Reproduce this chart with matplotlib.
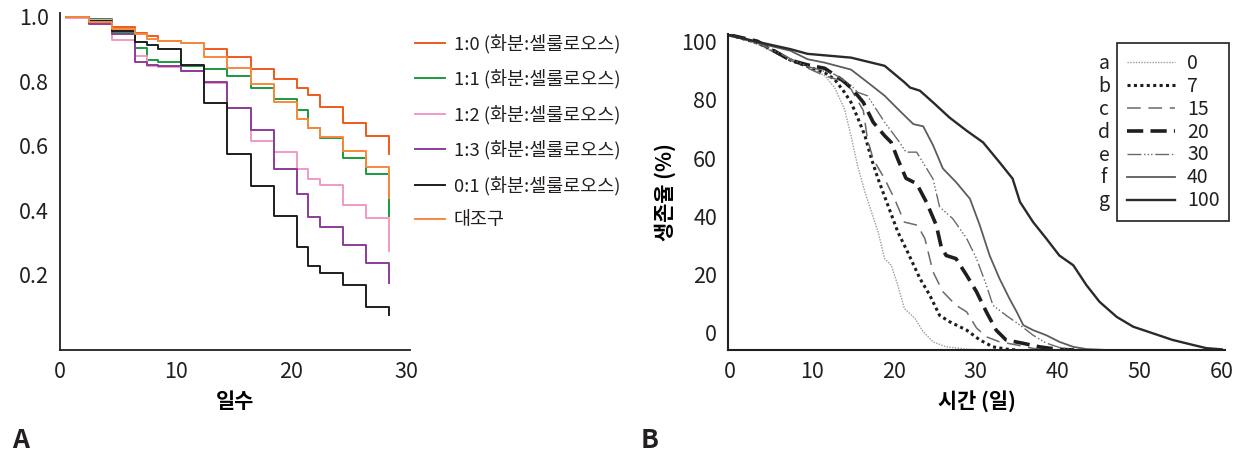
import numpy as np
import matplotlib.pyplot as plt

plt.rcParams['font.family'] = ['Noto Sans CJK KR', 'DejaVu Sans']
plt.rcParams['text.color'] = '#231f20'

# ---- 패널 A : 화분/셀룰로오스 비율별 생존율 (계단형) ----
days_a = [0.5, 2.5, 4.5, 6.5, 7.5, 8.5, 10.5, 12.5, 14.5, 16.5,
          18.5, 20.5, 21.5, 22.5, 24.5, 26.5, 28.5]
s_10 = [1.0, 0.985, 0.97, 0.95, 0.942, 0.924, 0.918, 0.90, 0.875, 0.838,
        0.807, 0.78, 0.759, 0.722, 0.671, 0.631, 0.575]
s_11 = [1.0, 0.994, 0.954, 0.904, 0.867, 0.861, 0.847, 0.839, 0.818, 0.78,
        0.746, 0.712, 0.655, 0.624, 0.562, 0.512, 0.383]
s_12 = [0.995, 0.99, 0.927, 0.878, 0.847, 0.845, 0.833, 0.795, 0.717, 0.614,
        0.58, 0.529, 0.498, 0.479, 0.417, 0.375, 0.274]
s_13 = [1.0, 0.979, 0.948, 0.86, 0.85, 0.848, 0.831, 0.798, 0.717, 0.65,
        0.529, 0.451, 0.379, 0.347, 0.293, 0.238, 0.176]
s_01 = [1.0, 0.986, 0.955, 0.922, 0.912, 0.90, 0.852, 0.733, 0.575, 0.477,
        0.384, 0.287, 0.229, 0.205, 0.169, 0.101, 0.075]
s_ctl = [1.0, 0.985, 0.963, 0.948, 0.93, 0.924, 0.918, 0.875, 0.842, 0.793,
         0.735, 0.683, 0.655, 0.626, 0.583, 0.533, 0.438]

labels_a = ['1:0 (화분:셀룰로오스)', '1:1 (화분:셀룰로오스)', '1:2 (화분:셀룰로오스)',
            '1:3 (화분:셀룰로오스)', '0:1 (화분:셀룰로오스)', '대조구']
series_a = [s_10, s_11, s_12, s_13, s_01, s_ctl]
colors_a = ['#ef5a1b', '#1a9a40', '#f09ac6', '#8c3d99', '#1e1e1e', '#f7883b']

# ---- 패널 B : 시간에 따른 생존율 ----
a_x = [0, 3.4, 5.4, 7.4, 9.5, 11.6, 12.8, 14, 14.8, 15.6, 16.5, 17.3, 18.1, 18.9,
       19.7, 20.5, 21.3, 22.6, 23.6, 24.8, 26.4, 28.9, 31]
a_y = [100, 97, 94.5, 92, 90.2, 87, 83.3, 76.5, 68, 58.5, 50.1, 43.8, 37.5, 29,
       26.9, 20.6, 13.2, 10, 5.8, 2.6, 1, 0.3, 0]
b_x = [0, 3.4, 5.4, 7.4, 9.5, 11.6, 12.8, 14, 14.8, 15.6, 16.5, 17.3, 18.1, 19.3,
       20.5, 21.7, 23.2, 24.4, 25.6, 26.8, 28.9, 30.5, 32.1, 33.7, 35]
b_y = [100, 97.5, 95, 92, 90, 88, 85.9, 81.8, 78.6, 73.8, 68, 60.6, 54.3, 45.9,
       37.5, 31.1, 22.7, 17.4, 11, 9, 6.3, 3.2, 1, 0.3, 0]
c_x = [0, 3.4, 5.4, 7.4, 9.5, 11.6, 13.6, 14.8, 16.3, 16.8, 17.5, 18.9, 20.1, 21.3,
       22.9, 23.8, 24.8, 26, 27.6, 28.9, 30.1, 31.3, 32.9, 35, 37, 39]
c_y = [100, 97.5, 94.5, 92, 89.5, 87, 85.5, 82.8, 76, 67, 60.6, 54.3, 48, 40.6,
       39.6, 35.4, 24.8, 18.5, 14.2, 12.1, 7, 4.2, 2.6, 1.6, 0.5, 0]
d_x = [0, 3.4, 5.4, 7.4, 9.5, 11.6, 13.6, 14.8, 16.3, 17.5, 18.9, 19.7, 20.5, 21.5,
       22.8, 24, 25.2, 25.8, 26.4, 27.6, 28.9, 30.1, 31.3, 32.5, 33.7, 35.8, 37.8,
       39.8, 42]
d_y = [100, 98, 95, 92, 90.5, 89.4, 85.9, 83.3, 78.6, 72.3, 68, 65.9, 60.6, 54.5,
       52.8, 46.9, 39.6, 32.7, 30, 29, 23.7, 18.5, 12.1, 6.3, 3.2, 2.1, 1, 0.3, 0]
e_x = [0, 3.4, 5.4, 7.4, 9.5, 12.8, 14.8, 15.6, 16.8, 18.9, 20.7, 21.5, 22.8, 24.8,
       25.6, 27.2, 28.9, 30.1, 31.3, 32.1, 33.7, 35.4, 37, 38.6, 40.2, 42]
e_y = [100, 97.5, 95, 92.5, 90, 87.5, 84, 81.8, 80.7, 72.3, 66, 62.8, 62.8, 54.3,
       45.4, 41.7, 35.4, 29, 20.6, 14.2, 11, 7.9, 4.7, 2.2, 0.8, 0]
f_x = [0, 3.4, 7.4, 9.5, 11.6, 14.8, 16.8, 18.9, 20.7, 22.4, 23.6, 24.8, 26, 27.6,
       29.3, 30.5, 31.7, 32.9, 34.1, 35, 35.8, 37, 38.6, 40.2, 41.9, 43.5, 46]
f_y = [100, 97.5, 95, 92.3, 91.2, 89, 85, 80.7, 76, 71.7, 71, 65, 57.6, 53.3,
       48, 39.6, 30, 22.7, 16.4, 12.1, 7.9, 6.3, 4.7, 2.6, 1, 0.3, 0]
g_x = [0, 3.4, 7.4, 9.5, 14.8, 18.9, 21.3, 22, 23.2, 24.8, 26.8, 28.9, 30.9, 32.9,
       34.5, 35.4, 37, 38.6, 40.2, 41.9, 43.5, 45.1, 47.2, 49.2, 51.6, 54, 56.5,
       58.1, 60]
g_y = [100, 97.8, 95.5, 94, 92.8, 90.2, 85, 83.3, 82.3, 78.6, 73.8, 69.6, 65.9,
       59.6, 54.4, 47, 40.6, 35.4, 30, 26.9, 20.6, 15.3, 10.5, 7.4, 5.3, 3.2, 1.6,
       0.6, 0.2]

letters_b = ['a', 'b', 'c', 'd', 'e', 'f', 'g']
labels_b = ['0', '7', '15', '20', '30', '40', '100']

fig = plt.figure(figsize=(12.55, 4.58), dpi=100)

# ===== A =====
axA = fig.add_axes([60/1255, 1-350/458, 350/1255, 337/458])
for s, c, lab in zip(series_a, colors_a, labels_a):
    axA.step(days_a, s, where='post', color=c, lw=1.4, label=lab)
axA.set_xlim(0.3, 30.3)
axA.set_ylim(-0.033, 1.012)
axA.set_xticks([0, 10, 20, 30])
axA.set_yticks([0.2, 0.4, 0.6, 0.8, 1.0])
axA.set_yticklabels(['0.2', '0.4', '0.6', '0.8', '1.0'])
axA.tick_params(length=0, labelsize=15.5, colors='#231f20', pad=8)
for sp in ['top', 'right']:
    axA.spines[sp].set_visible(False)
for sp in ['left', 'bottom']:
    axA.spines[sp].set_linewidth(1.3)
    axA.spines[sp].set_color('#231f20')
axA.set_xlabel('일수', fontsize=15, fontweight='bold', labelpad=6)
fig.legend(loc='upper left', bbox_to_anchor=(415/1255, 1-34/458), frameon=False,
           fontsize=13.3, handlelength=1.6, handletextpad=0.5, labelspacing=0.86,
           borderpad=0, borderaxespad=0)

# ===== B =====
axB = fig.add_axes([728/1255, 1-350/458, 497/1255, 316/458])
axB.plot(a_x, a_y, color='#9a9a9a', lw=1.0, ls=(0, (1, 1)), label=labels_b[0])
axB.plot(b_x, b_y, color='#1e1e1e', lw=2.2, ls=(0, (1, 1.1)), label=labels_b[1])
axB.plot(c_x, c_y, color='#6a6a6a', lw=1.1, ls=(0, (9, 5)), label=labels_b[2])
axB.plot(d_x, d_y, color='#1e1e1e', lw=2.6, ls=(0, (4.5, 2)), label=labels_b[3])
axB.plot(e_x, e_y, color='#6a6a6a', lw=1.0, ls=(0, (10, 2, 1, 1.5, 1, 1.5, 1, 2)),
         label=labels_b[4])
axB.plot(f_x, f_y, color='#5c5c5c', lw=1.3, label=labels_b[5])
axB.plot(g_x, g_y, color='#2a2a2a', lw=1.7, label=labels_b[6])
axB.set_xlim(-0.2, 60.4)
axB.set_ylim(0, 100.3)
axB.set_xticks([0, 10, 20, 30, 40, 50, 60])
axB.set_yticks(np.linspace(5.4, 97.9, 6))
axB.set_yticklabels(['0', '20', '40', '60', '80', '100'])
axB.tick_params(length=0, labelsize=15.5, colors='#231f20', pad=8)
for sp in ['top', 'right']:
    axB.spines[sp].set_visible(False)
for sp in ['left', 'bottom']:
    axB.spines[sp].set_linewidth(1.5)
    axB.spines[sp].set_color('#231f20')
axB.set_xlabel('시간 (일)', fontsize=15, fontweight='bold', labelpad=6)
axB.set_ylabel('생존율 (%)', fontsize=15, fontweight='bold', labelpad=4)
legB = axB.legend(loc='upper left', bbox_to_anchor=(1117/1255, 1-43/458),
                  bbox_transform=fig.transFigure, fontsize=14, handlelength=2.5,
                  handletextpad=0.6, labelspacing=0.1, borderpad=0.5,
                  borderaxespad=0, fancybox=False, edgecolor='#231f20',
                  framealpha=1)
legB.get_frame().set_linewidth(1.2)

fig.canvas.draw()
inv = fig.transFigure.inverted()
for letter, txt in zip(letters_b, legB.get_texts()):
    bb = txt.get_window_extent()
    y = inv.transform((0, (bb.y0 + bb.y1) / 2))[1]
    fig.text(1104/1255, y, letter, fontsize=14, ha='center', va='center')

fig.text(12/1255, 1-440/458, 'A', fontsize=19, fontweight='bold', va='center')
fig.text(641/1255, 1-440/458, 'B', fontsize=19, fontweight='bold', va='center')

fig.savefig('out.png', dpi=100)
